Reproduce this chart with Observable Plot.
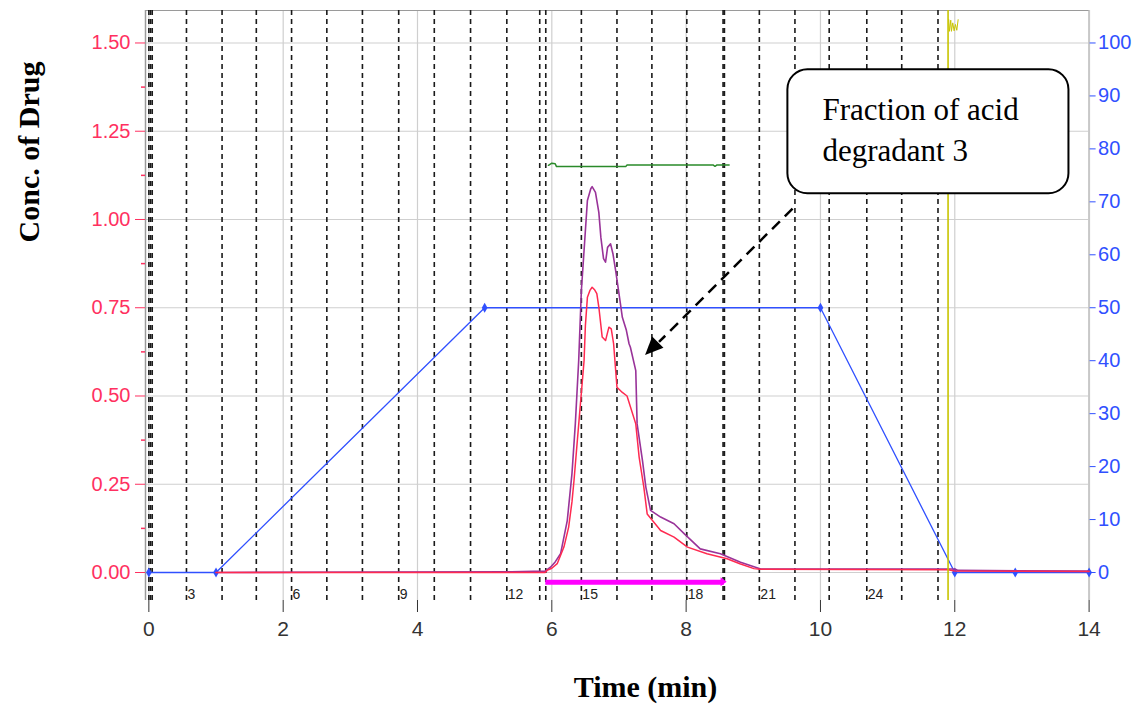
<!DOCTYPE html>
<html><head><meta charset="utf-8">
<script src="https://cdn.jsdelivr.net/npm/d3@7"></script>
<script src="https://cdn.jsdelivr.net/npm/@observablehq/plot@0.6"></script>
<style>body{margin:0;background:#fff}</style>
</head><body><div id="chart"></div>
<script>
// ---- data ----
const xTicks = [0, 2, 4, 6, 8, 10, 12, 14];
const concTicks = [0, 0.25, 0.5, 0.75, 1.0, 1.25, 1.5];
const concMinorTicks = [0.125, 0.375, 0.625, 0.875, 1.125, 1.375];
const pctTicks = [0, 10, 20, 30, 40, 50, 60, 70, 80, 90, 100];
const pctToConc = 0.015; // right axis 100 % == left axis 1.50

const gradientTime = [0, 1, 5, 10, 12, 12.9, 14];
const gradientPct  = [0, 0, 50, 50, 0, 0, 0];

const redTime = [1, 5.9, 5.93, 6.0, 6.08, 6.18, 6.25, 6.30, 6.33, 6.38, 6.43, 6.48, 6.50, 6.53, 6.57, 6.60, 6.64, 6.67, 6.70, 6.75, 6.80, 6.85, 6.885, 6.92, 6.97, 7.05, 7.12, 7.25, 7.30, 7.37, 7.42, 7.62, 7.82, 8.02, 8.31, 8.61, 8.8, 9.01, 9.1, 11.9, 12.0, 14];
const redConc = [0, 0, 0.006, 0.012, 0.025, 0.072, 0.128, 0.2, 0.26, 0.374, 0.487, 0.60, 0.70, 0.78, 0.80, 0.808, 0.80, 0.79, 0.752, 0.667, 0.657, 0.695, 0.69, 0.648, 0.525, 0.51, 0.5, 0.421, 0.327, 0.242, 0.166, 0.119, 0.10, 0.072, 0.053, 0.039, 0.025, 0.011, 0.009, 0.008, 0.004, 0.003];

const purpleTime = [1, 5.4, 5.9, 5.98, 6.05, 6.13, 6.23, 6.30, 6.35, 6.40, 6.44, 6.48, 6.53, 6.58, 6.60, 6.65, 6.70, 6.73, 6.77, 6.80, 6.83, 6.875, 6.91, 6.95, 7.0, 7.05, 7.11, 7.15, 7.17, 7.25, 7.27, 7.35, 7.40, 7.47, 7.62, 7.82, 7.97, 8.21, 8.51, 8.81, 9.11, 12.0, 12.05, 14];
const purpleConc = [0, 0.002, 0.004, 0.015, 0.03, 0.053, 0.147, 0.28, 0.421, 0.60, 0.799, 0.912, 1.054, 1.087, 1.093, 1.077, 1.02, 0.95, 0.889, 0.879, 0.921, 0.931, 0.903, 0.856, 0.79, 0.723, 0.686, 0.648, 0.638, 0.572, 0.421, 0.317, 0.242, 0.176, 0.157, 0.138, 0.11, 0.067, 0.053, 0.029, 0.01, 0.01, 0.006, 0.004];

const greenTime = [5.95, 6.0, 6.05, 6.07, 6.15, 7.1, 7.12, 8.4, 8.43, 8.46, 8.64];
const greenPct  = [76.9, 77.3, 77.2, 76.65, 76.65, 76.65, 76.96, 76.96, 76.7, 76.96, 76.96];

const fractionLines = [0, 0.025, 0.05, 0.56, 1.09, 1.60, 2.125, 2.65, 3.18, 3.72, 4.25, 4.79, 5.33, 5.82, 5.91, 6.44, 6.97, 7.49, 8.01, 8.55, 8.57, 9.09, 9.62, 10.13, 10.69, 11.21, 11.75];
const fractionLabelNums = [3, 6, 9, 12, 15, 18, 21, 24];

const collectStart = 5.91, collectEnd = 8.61;
const injectionTime = 11.9;
const squiggleTime = [11.91, 11.92, 11.94, 11.95, 11.97, 11.99, 12.01, 12.03, 12.05];
const squigglePct  = [104.4, 102.2, 104.3, 102.2, 103.8, 102.3, 103.5, 102.4, 104.4];

const noteText = "Fraction of acid\ndegradant 3";
const noteBoxX = [9.515, 13.70];
const noteBoxY = [1.073, 1.424];
const noteTextPos = [10.03, 1.362];
const arrowFrom = [9.585, 1.031];
const arrowTo = [7.396, 0.615];

const xTitle = "Time (min)";
const yTitle = "Conc. of Drug";

// ---- tables ----
const gradient = gradientTime.map((t, i) => ({t, v: gradientPct[i] * pctToConc}));
const red = redTime.map((t, i) => ({t, v: redConc[i]}));
const purple = purpleTime.map((t, i) => ({t, v: purpleConc[i]}));
const green = greenTime.map((t, i) => ({t, v: greenPct[i] * pctToConc}));
const squiggle = squiggleTime.map((t, i) => ({t, v: squigglePct[i] * pctToConc}));
const fracLabels = fractionLabelNums.map(n => ({t: fractionLines[n], n}));

const xDomain = [-0.05, 14];
const yDomain = [-0.0793, 1.592];
const RED = "#ff3060", BLUE = "#3050ff";

function triangleMark(from, to, len, half, color) {
  return (index, scales) => {
    const x0 = scales.x(from[0]), y0 = scales.y(from[1]);
    const x1 = scales.x(to[0]), y1 = scales.y(to[1]);
    const dx = x1 - x0, dy = y1 - y0, L = Math.hypot(dx, dy);
    const ux = dx / L, uy = dy / L;
    const bx = x1 - ux * len, by = y1 - uy * len;
    const p = `M${x1},${y1}L${bx - uy * half},${by + ux * half}L${bx + uy * half},${by - ux * half}Z`;
    return d3.create("svg:path").attr("d", p).attr("fill", color).node();
  };
}

// axis titles placed relative to the frame
function titleMark(text, fx, fy, rotate) {
  return (index, scales, values, dim) => {
    const x = dim.marginLeft + fx * (dim.width - dim.marginLeft - dim.marginRight);
    const y = dim.marginTop + fy;
    return d3.create("svg:text")
      .attr("transform", `translate(${x},${y})${rotate ? ` rotate(${rotate})` : ""}`)
      .attr("text-anchor", "middle")
      .attr("dy", "0.35em")
      .attr("font-family", "Liberation Serif")
      .attr("font-weight", "bold")
      .attr("font-size", 30)
      .attr("fill", "black")
      .text(text).node();
  };
}

const chart = Plot.plot({
  width: 1141, height: 706,
  marginLeft: 145, marginRight: 52.4, marginTop: 10, marginBottom: 106,
  x: {domain: xDomain},
  y: {domain: yDomain},
  style: {background: "white", fontFamily: "Liberation Sans"},
  marks: [
    Plot.gridY(concTicks, {stroke: "#cfcfcf", strokeOpacity: 1, strokeWidth: 1.2}),
    Plot.gridX(xTicks, {stroke: "#cfcfcf", strokeOpacity: 1, strokeWidth: 1.2}),
    Plot.ruleX([xDomain[0]], {stroke: "#9a9a9a", strokeWidth: 1.5}),
    Plot.ruleX([xDomain[1]], {stroke: "#c8c8c8", strokeWidth: 2}),
    Plot.ruleY([yDomain[1]], {stroke: "#9a9a9a", strokeWidth: 1.2}),
    Plot.ruleX(fractionLines, {stroke: "#1a1a1a", strokeWidth: 1.6, strokeDasharray: "5,4"}),
    Plot.text(fracLabels, {x: "t", y: -0.0623, text: d => String(d.n), textAnchor: "start", dx: 1, fontSize: 14, fill: "#222"}),
    Plot.axisX(xTicks, {tickSize: 12, tickPadding: 9, fontSize: 21, color: "#333", label: null}),
    Plot.axisY(concTicks, {anchor: "left", tickSize: 10, tickPadding: 5, fontSize: 20, color: RED, tickFormat: d3.format(".2f"), label: null}),
    Plot.axisY(concMinorTicks, {anchor: "left", tickSize: 4, tickPadding: 0, color: RED, strokeWidth: 1.5, tickFormat: () => "", label: null}),
    Plot.axisY(pctTicks.map(p => p * pctToConc), {anchor: "right", tickSize: 6, tickPadding: 3, fontSize: 20, color: BLUE, tickFormat: d => String(Math.round(d / pctToConc)), label: null}),
    Plot.line(gradient, {x: "t", y: "v", stroke: BLUE, strokeWidth: 1.3}),
    Plot.dot(gradient, {x: "t", y: "v", symbol: "diamond", r: 3, fill: BLUE, stroke: "none"}),
    Plot.line(green, {x: "t", y: "v", stroke: "#2a8a2a", strokeWidth: 1.5}),
    Plot.line(purple, {x: "t", y: "v", stroke: "#993399", strokeWidth: 1.6}),
    Plot.line(red, {x: "t", y: "v", stroke: "#ff2a50", strokeWidth: 1.5}),
    Plot.ruleY([-0.0275], {x1: collectStart, x2: collectEnd - 0.04, stroke: "#ff00ff", strokeWidth: 5}),
    triangleMark([collectStart, -0.0275], [collectEnd, -0.0275], 6, 4.5, "#ff00ff"),
    Plot.ruleX([injectionTime], {stroke: "#c8c400", strokeWidth: 1.6}),
    Plot.line(squiggle, {x: "t", y: "v", stroke: "#c8c400", strokeWidth: 1}),
    Plot.rect([0], {x1: noteBoxX[0], x2: noteBoxX[1], y1: noteBoxY[0], y2: noteBoxY[1], rx: 20, fill: "white", stroke: "black", strokeWidth: 2}),
    Plot.text([noteText], {x: noteTextPos[0], y: noteTextPos[1], text: d => d, textAnchor: "start", lineAnchor: "top", lineHeight: 1.3, fontSize: 31, fontFamily: "Liberation Serif", fill: "black"}),
    Plot.link([0], {x1: arrowFrom[0], y1: arrowFrom[1], x2: arrowTo[0] + 0.2, y2: arrowTo[1] + 0.038, stroke: "black", strokeWidth: 2.5, strokeDasharray: "11,7"}),
    triangleMark(arrowFrom, arrowTo, 18, 8, "black"),
    titleMark(xTitle, 0.5304, 676, 0),
    titleMark(yTitle, -0.1236, 142, -90)
  ]
});
document.getElementById("chart").append(chart);
</script></body></html>
